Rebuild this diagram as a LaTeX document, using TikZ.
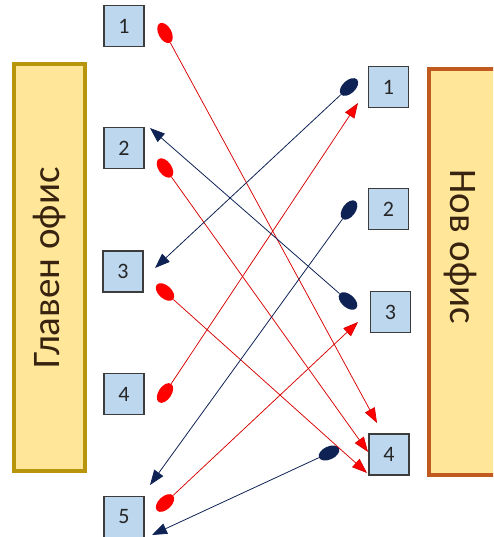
\documentclass[tikz,border=0pt]{standalone}
\usepackage{fontspec}
\setmainfont{Carlito}
\usetikzlibrary{shapes.geometric,arrows.meta}
\definecolor{boxblue}{RGB}{189,215,238}
\definecolor{boxedge}{RGB}{60,60,60}
\definecolor{panelfill}{RGB}{255,230,153}
\definecolor{goldedge}{RGB}{184,150,12}
\definecolor{brownedge}{RGB}{192,90,30}
\definecolor{navyc}{RGB}{14,34,84}
\definecolor{labelc}{RGB}{55,35,15}
\tikzset{
  numbox/.style={draw=boxedge, line width=1.3pt, fill=boxblue, minimum width=40pt, minimum height=41pt, inner sep=0pt, font=\fontsize{22}{22}\selectfont, text=black!85},
  redtail/.style={ellipse, fill=red, inner sep=0pt, minimum width=22pt, minimum height=13pt},
  navytail/.style={ellipse, fill=navyc, inner sep=0pt, minimum width=22pt, minimum height=13pt},
  redarrow/.style={draw=red!85!black, line width=0.75pt, -{Triangle[length=15pt,width=11pt,fill=red]}},
  navyarrow/.style={draw=navyc, line width=0.8pt, -{Triangle[length=15pt,width=11pt,fill=navyc]}},
  panellabel/.style={font=\fontsize{39}{39}\selectfont, text=labelc, inner sep=0pt}
}
\begin{document}
\begin{tikzpicture}[x=1pt,y=-1pt]
\useasboundingbox (0,0) rectangle (493,537);
\clip (0,0) rectangle (493,537);
% panels
\draw[line width=4pt, draw=goldedge, fill=panelfill] (14,64) rectangle (85,471);
\draw[line width=4pt, draw=brownedge, fill=panelfill] (429,69) rectangle (505,475);
\node[panellabel, rotate=90] (main) at (50,268) {Главен офис};
\node[panellabel, rotate=-90] (new) at (460,247) {Нов офис};
% number boxes
\node[numbox] (L1) at (124,26) {1};
\node[numbox] (L2) at (124,148) {2};
\node[numbox] (L3) at (123,271.5) {3};
\node[numbox] (L4) at (124,394) {4};
\node[numbox] (L5) at (124,517) {5};
\node[numbox] (R1) at (388.5,87) {1};
\node[numbox] (R2) at (388.5,209) {2};
\node[numbox] (R3) at (390.5,312) {3};
\node[numbox] (R4) at (389,454.5) {4};
% arrow targets
\coordinate (ta) at (377,423);
\coordinate (tb) at (368,452);
\coordinate (tc) at (367,473);
\coordinate (td) at (358,103);
\coordinate (te) at (358,322);
\coordinate (tf) at (155,268);
\coordinate (tg) at (150,485);
\coordinate (th) at (150,128);
\coordinate (ti) at (152,535);
% tails
\node[redtail, rotate=-61.5] (ea) at (165,33) {};
\node[redtail, rotate=-54.4] (eb) at (165,168) {};
\node[redtail, rotate=-41.9] (ec) at (165,292) {};
\node[redtail, rotate=56.4] (ed) at (165,393) {};
\node[redtail, rotate=43.2] (ee) at (165,503) {};
\node[navytail, rotate=43] (ef) at (349,87) {};
\node[navytail, rotate=54.1] (eg) at (349,210) {};
\node[navytail, rotate=-41.1] (eh) at (348,301) {};
\node[navytail, rotate=24.9] (ei) at (329,453) {};
% connectors
\draw[redarrow] (ea) -- (ta);
\draw[redarrow] (eb) -- (tb);
\draw[redarrow] (ec) -- (tc);
\draw[redarrow] (ed) -- (td);
\draw[redarrow] (ee) -- (te);
\draw[navyarrow] (ef) -- (tf);
\draw[navyarrow] (eg) -- (tg);
\draw[navyarrow] (eh) -- (th);
\draw[navyarrow] (ei) -- (ti);
\end{tikzpicture}
\end{document}
